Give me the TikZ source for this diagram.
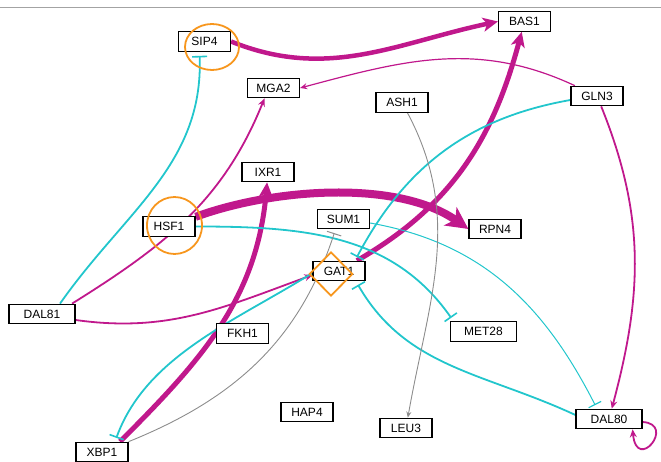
\documentclass[tikz,border=0pt]{standalone}
\usepackage{fontspec}
\setmainfont{Liberation Sans}
\usetikzlibrary{arrows.meta,shapes.geometric}
\pgfdeclarelayer{bg}
\pgfsetlayers{bg,main}
\definecolor{mag}{RGB}{192,24,140}
\definecolor{cyn}{RGB}{34,198,204}
\definecolor{org}{RGB}{247,150,29}
\definecolor{gry}{RGB}{140,140,140}

\begin{document}
\begin{tikzpicture}[x=1pt,y=1pt,
  gene node/.style={rectangle,draw,fill=white,line width=1.2pt,minimum width=52pt,minimum height=19.5pt,inner sep=0pt,font=\fontsize{12}{14}\selectfont},
  wide node/.style={gene node,minimum width=66pt},
  ring/.style={ellipse,draw=org,line width=1.8pt,inner sep=0pt},
  act/.style={mag,line width=1.8pt,-{Stealth[length=8pt,width=7pt]}},
  bigact/.style={mag,line width=4.5pt,-{Stealth[length=15pt,width=14pt,inset=4pt]}},
  inh/.style={cyn,line width=1.8pt,-{Bar[width=15pt,line width=1.6pt]},shorten >=4pt},
  weak/.style={gry,line width=0.9pt}]
  \useasboundingbox (0,0) rectangle (661,-462);
  \draw[gry!80,line width=0.8pt] (0,-7) -- (661,-7);

  \node[gene node] (SIP4) at (204.5,-41.5) {SIP4};
  \node[gene node] (BAS1) at (524.5,-21.5) {BAS1};
  \node[gene node] (MGA2) at (273.5,-88) {MGA2};
  \node[gene node] (ASH1) at (402,-102.5) {ASH1};
  \node[gene node] (GLN3) at (597,-96) {GLN3};
  \node[gene node] (IXR1) at (268,-172) {IXR1};
  \node[gene node] (HSF1) at (169,-226.5) {HSF1};
  \node[gene node] (SUM1) at (343.5,-219) {SUM1};
  \node[gene node] (RPN4) at (495,-229) {RPN4};
  \node[gene node] (GAT1) at (339,-271) {GAT1};
  \node[wide node] (DAL81) at (42,-314) {DAL81};
  \node[gene node] (FKH1) at (242.5,-333.5) {FKH1};
  \node[wide node] (MET28) at (483.5,-331.5) {MET28};
  \node[gene node] (HAP4) at (307,-412) {HAP4};
  \node[gene node] (LEU3) at (406,-428) {LEU3};
  \node[gene node] (XBP1) at (102,-452) {XBP1};
  \node[wide node] (DAL80) at (609,-419) {DAL80};

  % marked regulators
  \node[ring,minimum width=54pt,minimum height=46pt] (ringSIP4) at ([xshift=7.5,yshift=-5.5]SIP4) {};
  \node[ring,minimum width=55pt,minimum height=57pt] (ringHSF1) at ([xshift=5.5,yshift=1]HSF1) {};
  \node[diamond,draw=org,line width=1.8pt,minimum width=43.4pt,minimum height=44pt,inner sep=0pt] (kiteGAT1) at ([xshift=-8,yshift=-3]GAT1) {};

  \begin{pgfonlayer}{bg}
  % activation
  \draw[bigact] (SIP4.east) to[out=-22,in=192] (BAS1.west);
  \draw[bigact,line width=5pt] (GAT1) to[out=30,in=-105] (BAS1);
  \draw[bigact,line width=5pt] ([xshift=18]XBP1.north) to[out=45,in=-95] (IXR1);
  \draw[mag,line width=8pt,-{Stealth[length=22pt,width=22pt,inset=6pt]}] (HSF1) to[out=20,in=145,looseness=0.8] (RPN4.west);
  \draw[act] ([xshift=30]DAL81.north) to[out=32,in=-112] ([xshift=-9]MGA2.south);
  \draw[act] ([yshift=-6]DAL81.east) to[out=-8,in=200] ([yshift=-4]GAT1.west);
  \draw[act,line width=1.2pt,-{Stealth[length=7pt,width=6pt]}] (GLN3) to[out=155,in=15] (MGA2.east);
  \draw[act] (GLN3) to[out=-68,in=75] (DAL80);
  \draw[act] ([yshift=-3]DAL80.east) .. controls +(34,-2) and +(4,-44) .. ([xshift=-10]DAL80.south east);
  % inhibition
  \draw[inh] ([xshift=18]DAL81.north) to[out=55,in=-88] ([xshift=-5]SIP4.south);
  \draw[inh] (HSF1.east) to[out=0,in=125] ([xshift=-30]MET28.north);
  \draw[inh,line width=1pt,-{Bar[width=14pt,line width=1.2pt]}] ([yshift=-4]SUM1.east) to[out=-10,in=117] ([xshift=-12]DAL80.north);
  \draw[inh] ([yshift=-4]GLN3.west) to[out=190,in=62] ([xshift=16]GAT1.north);
  \draw[inh] ([yshift=4]DAL80.west) to[out=155,in=-60] ([xshift=17]GAT1.south);
  \draw[inh] ([yshift=-2]GAT1.west) to[out=212,in=70,looseness=0.9] ([xshift=13]XBP1.north);
  \draw[weak,-{Bar[width=15pt,line width=1pt]},shorten >=4pt] (XBP1.north east) to[out=22,in=-108] ([xshift=-8]SUM1.south);
  \draw[weak,-{Stealth[length=6pt,width=5pt]}] (ASH1) to[out=-62,in=80] (LEU3);
  \end{pgfonlayer}
\end{tikzpicture}
\end{document}
